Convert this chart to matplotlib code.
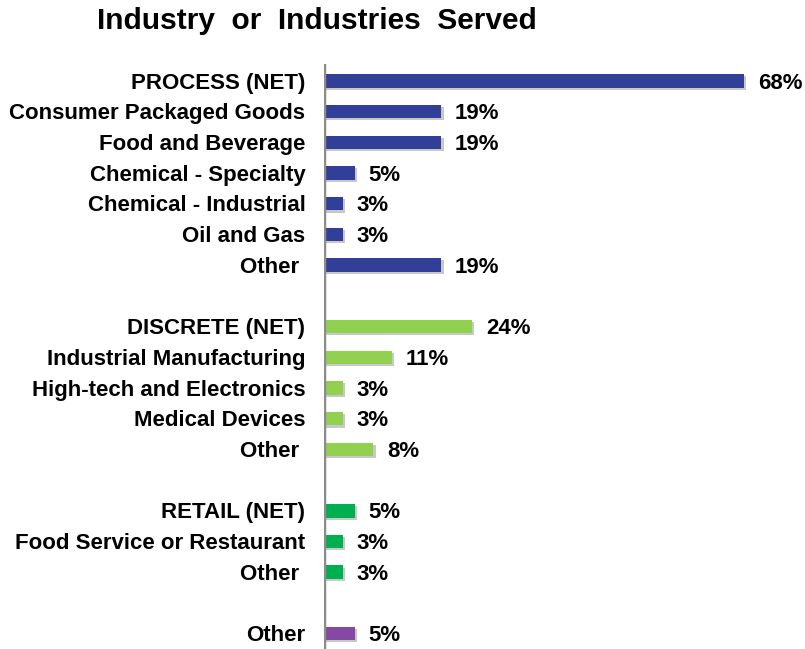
import numpy as np
import matplotlib.pyplot as plt
import matplotlib.patheffects as pe

plt.rcParams['font.family'] = ['Liberation Sans', 'DejaVu Sans']

# rows top to bottom; None marks an empty spacer row
labels = ['PROCESS (NET)', 'Consumer Packaged Goods', 'Food and Beverage',
          'Chemical - Specialty', 'Chemical - Industrial', 'Oil and Gas', 'Other ',
          None,
          'DISCRETE (NET)', 'Industrial Manufacturing', 'High-tech and Electronics',
          'Medical Devices', 'Other ',
          None,
          'RETAIL (NET)', 'Food Service or Restaurant', 'Other ',
          None,
          'Other']
values = [68, 19, 19, 5, 3, 3, 19,
          None,
          24, 11, 3, 3, 8,
          None,
          5, 3, 3,
          None,
          5]
groups = ['process'] * 7 + [None] + ['discrete'] * 5 + [None] + ['retail'] * 3 + [None] + ['other']

colors = {'process': '#323F99', 'discrete': '#92D050',
          'retail': '#00B050', 'other': '#8549A3'}

fig = plt.figure(figsize=(8.05, 6.49), dpi=100)
ax = fig.add_axes([324 / 805, 0, 476 / 805, 1 - 64 / 649])

shadow = [pe.SimplePatchShadow(offset=(1.5, -1.5), shadow_rgbFace='#777777', alpha=0.4),
          pe.Normal()]

for i, (lab, v, g) in enumerate(zip(labels, values, groups)):
    if v is None:
        continue
    bar = ax.barh(i, v, height=0.44, color=colors[g], zorder=2)
    for p in bar:
        p.set_path_effects(shadow)
    ax.text(v + 2.2, i + 0.07, f'{v}%', va='center', ha='left',
            fontsize=16, fontweight='bold')
    ax.text(-3.0, i + 0.07, lab, va='center', ha='right',
            fontsize=16, fontweight='bold')

ax.set_xlim(0, 77)
ax.set_ylim(18.5, -0.55)
ax.axis('off')
ax.axvline(0, color='#8C8C8C', lw=2.5, zorder=3)

fig.text(317 / 805, 1 - 21 / 649, 'Industry  or  Industries  Served', ha='center',
         va='center', fontsize=21.5, fontweight='bold')

fig.savefig('out.png', dpi=100)
